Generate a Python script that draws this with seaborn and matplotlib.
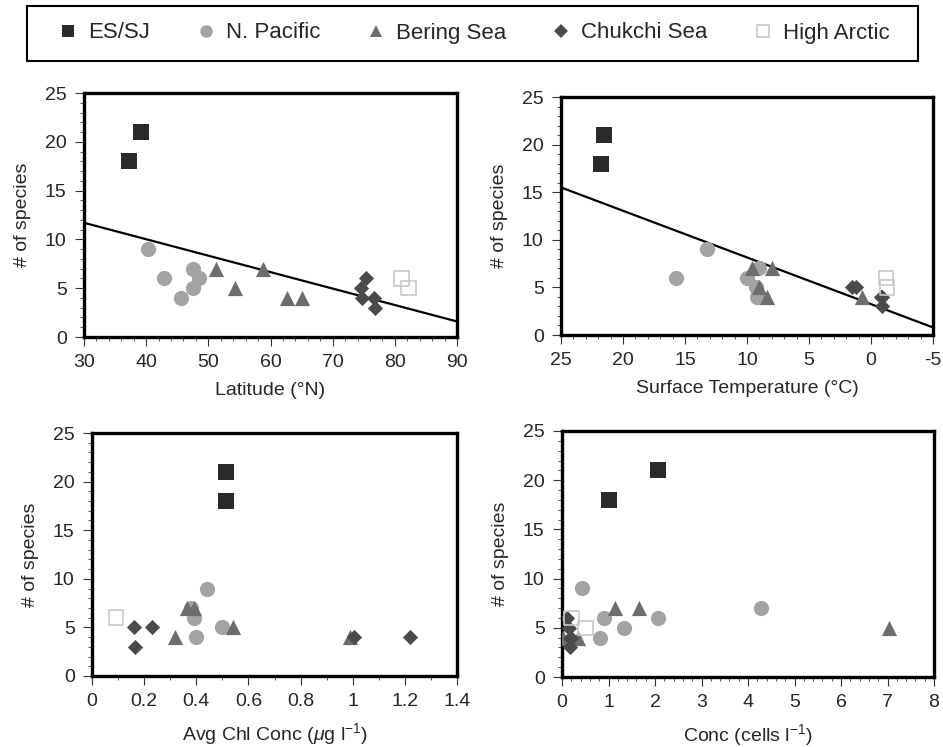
import numpy as np
import matplotlib
matplotlib.use("Agg")
import matplotlib.pyplot as plt
from matplotlib.lines import Line2D
from matplotlib.patches import Rectangle
from matplotlib.ticker import MultipleLocator
import seaborn as sns

# region names, in legend order
regions = ["ES/SJ", "N. Pacific", "Bering Sea", "Chukchi Sea", "High Arctic"]

# latitude panel (one sublist per region)
lat_x = [[37.2, 39.1], [40.3, 42.8, 45.6, 47.5, 48.5, 47.5],
         [51.2, 54.3, 58.8, 62.6, 65.0], [74.6, 74.7, 75.4, 76.6, 76.8], [81.1, 82.2]]
lat_y = [[18, 21], [9, 6, 4, 7, 6, 5], [7, 5, 7, 4, 4], [5, 4, 6, 4, 3], [6, 5]]

# surface temperature panel
temp_x = [[21.8, 21.5], [13.2, 15.7, 10.0, 9.0, 9.3, 9.2],
          [9.6, 8.0, 9.0, 8.4, 0.7], [1.5, 1.2, -0.8, -0.9, -0.9], [-1.2, -1.3]]
temp_y = [[18, 21], [9, 6, 6, 7, 5, 4], [7, 7, 5, 4, 4], [5, 5, 4, 4, 3], [6, 5]]

# chlorophyll panel
chl_x = [[0.514, 0.514], [0.44, 0.39, 0.40, 0.50, 0.38],
         [0.365, 0.39, 0.318, 0.54, 0.99], [0.161, 0.231, 0.166, 1.005, 1.22], [0.092]]
chl_y = [[18, 21], [9, 6, 4, 5, 7], [7, 7, 4, 5, 4], [5, 5, 3, 4, 4], [6]]

# cell concentration panel
conc_x = [[1.02, 2.06], [0.43, 0.90, 0.82, 1.33, 2.07, 4.28],
          [1.14, 1.66, 7.04, 0.02, 0.35], [0.10, 0.14, 0.17, 0.17, 0.20], [0.20, 0.50]]
conc_y = [[18, 21], [9, 6, 4, 5, 6, 7], [7, 7, 5, 4, 4], [6, 5, 4, 3, 4], [6, 5]]

markers = ["s", "o", "^", "D", "s"]
colors = ["#2a2a2a", "#a3a3a3", "#6d6d6d", "#4a4a4a", "#c8c8c8"]
sizes = [120, 120, 120, 60, 110]

sns.set_style("ticks")
plt.rcParams["font.family"] = ["Liberation Sans", "DejaVu Sans"]
plt.rcParams["mathtext.fontset"] = "custom"
plt.rcParams["mathtext.rm"] = "Liberation Sans"
plt.rcParams["mathtext.it"] = "Liberation Sans:italic"
plt.rcParams["axes.unicode_minus"] = False

W, H = 943, 747
fig = plt.figure(figsize=(W / 100, H / 100), dpi=100)


def rect(l, t, r, b):
    return [l / W, 1 - b / H, (r - l) / W, (b - t) / H]


def panel(box, xs, ys, xlim, major, minor, xlabel, fit=False, fmt=None):
    ax = fig.add_axes(rect(*box))
    ax.set_xlim(*xlim)
    ax.set_ylim(0, 25)
    for i in range(len(regions)):
        sns.scatterplot(x=xs[i], y=ys[i], marker=markers[i], color=colors[i], s=sizes[i],
                        linewidth=0, ax=ax, legend=False, zorder=3)
        if i == 4:
            pts = ax.collections[-1]
            pts.set_facecolor("none")
            pts.set_edgecolor(colors[i])
            pts.set_linewidth(1.2)
    if fit:
        allx = np.concatenate([np.array(v, float) for v in xs])
        ally = np.concatenate([np.array(v, float) for v in ys])
        sns.regplot(x=allx, y=ally, scatter=False, ci=None, truncate=False, ax=ax,
                    line_kws=dict(color="black", lw=1.6, zorder=2))
    ax.set_xlim(*xlim)
    ax.set_ylim(0, 25)
    ax.xaxis.set_major_locator(MultipleLocator(major))
    ax.xaxis.set_minor_locator(MultipleLocator(minor))
    ax.yaxis.set_major_locator(MultipleLocator(5))
    ax.yaxis.set_minor_locator(MultipleLocator(1))
    if fmt is not None:
        ax.xaxis.set_major_formatter(fmt)
    ax.tick_params(which="major", direction="out", length=6.5, width=0.8,
                   labelsize=14, pad=6, color="#333333")
    ax.tick_params(which="minor", direction="out", length=3, width=0.6, color="#333333")
    for sp in ax.spines.values():
        sp.set_linewidth(2.4)
        sp.set_color("black")
    ax.set_xlabel(xlabel, fontsize=14, labelpad=8)
    ax.set_ylabel("# of species", fontsize=14, labelpad=10)
    return ax


g_fmt = plt.FuncFormatter(lambda v, p: f"{v:g}")

panel((84, 93, 457, 337), lat_x, lat_y, (30, 90), 10, 2, "Latitude (°N)", fit=True)
panel((561, 97, 933, 335), temp_x, temp_y, (25, -5), 5, 1,
      "Surface Temperature (°C)", fit=True)
panel((92, 433, 457, 676), chl_x, chl_y, (0, 1.4), 0.2, 0.1,
      r"Avg Chl Conc ($\mu$g l$^{\mathrm{-1}}$)", fmt=g_fmt)
panel((562, 431, 934, 677), conc_x, conc_y, (0, 8), 1, 0.2,
      r"Conc (cells l$^{\mathrm{-1}}$)")

handles = []
for i, name in enumerate(regions):
    if i == 4:
        h = Line2D([], [], ls="none", marker="s", markersize=9, markerfacecolor="none",
                   markeredgecolor=colors[i], markeredgewidth=1.2)
    else:
        h = Line2D([], [], ls="none", marker=markers[i], markersize=7 if i == 3 else 9,
                   color=colors[i], markeredgewidth=0)
    handles.append(h)

# legend entries spread across the band, frame drawn separately
fig.legend(handles, regions, loc="center", ncol=5, fontsize=16, mode="expand",
           bbox_to_anchor=(55 / W, 1 - 61 / H, 835 / W, 56 / H),
           frameon=False, borderaxespad=0, handletextpad=0.3, handlelength=1.2,
           borderpad=0.0)
fig.patches.append(Rectangle((27 / W, 1 - 61 / H), 891 / W, 55 / H,
                             transform=fig.transFigure, fill=False,
                             edgecolor="black", linewidth=1.5))

fig.savefig("out.png", dpi=100)
